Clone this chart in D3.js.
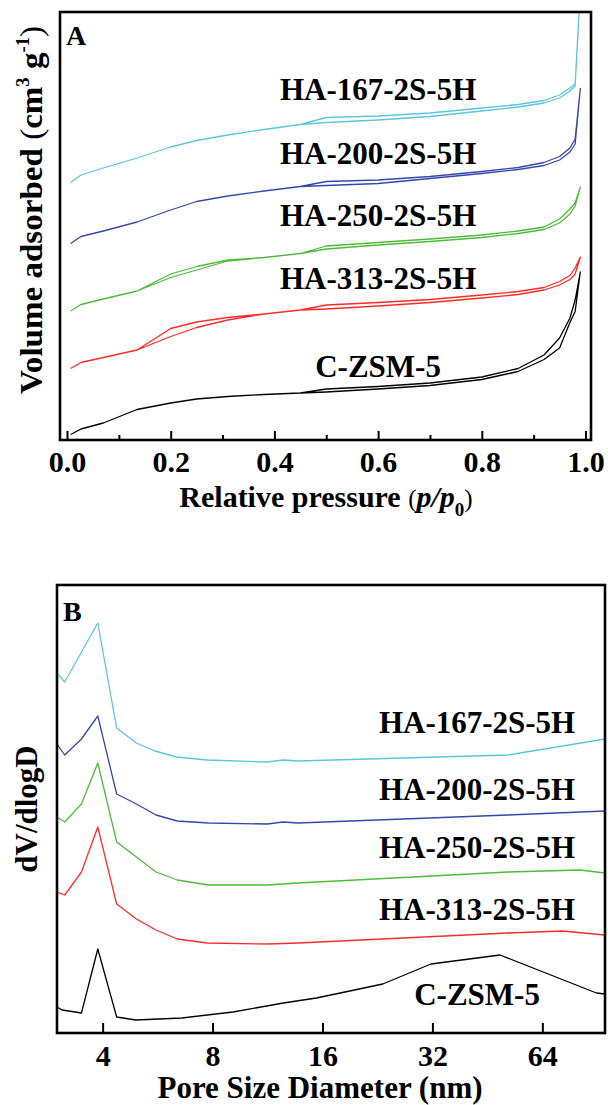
<!DOCTYPE html>
<html>
<head>
<meta charset="utf-8">
<script src="https://cdn.jsdelivr.net/npm/d3@7"></script>
<style>
body { margin: 0; background: #fff; }
text { font-family: "Liberation Serif", "Times New Roman", serif; font-weight: bold; fill: #000; }
</style>
</head>
<body>
<svg id="chart" width="608" height="1105"></svg>
<script>
//panel A data: N2 isotherms (stacked, arbitrary offset units)//
var pAds = [0.007, 0.027, 0.07, 0.135, 0.2, 0.25, 0.31, 0.38, 0.45, 0.5, 0.6, 0.7, 0.8, 0.87, 0.92, 0.95, 0.97, 0.98, 0.99];
var pDes = [0.99, 0.98, 0.97, 0.95, 0.92, 0.87, 0.8, 0.7, 0.6, 0.5, 0.45, 0.38, 0.31, 0.25, 0.2, 0.135];

var ads167 = [515, 530, 544, 564, 586, 599, 610, 621, 631, 635, 640, 647, 658, 666, 674, 684, 698, 708, 900];
var des167 = [900, 712, 704, 690, 679, 671, 664, 654, 648, 645, 631, 621, 610, 599, 586, 564];
var ads200 = [393, 407, 418, 436, 460, 477, 488, 498, 507, 509, 513, 523, 533, 541, 549, 560, 576, 592, 703];
var des200 = [703, 602, 584, 567, 555, 545, 537, 527, 520, 517, 507, 498, 488, 477, 460, 436];
var ads250 = [258, 271, 282, 298, 325, 340, 358, 365, 373, 382, 390, 397, 405, 413, 421, 434, 452, 468, 506];
var des250 = [506, 474, 462, 442, 426, 418, 410, 402, 395, 388, 373, 365, 360, 347, 332, 298];
var ads313 = [143, 155, 165, 180, 207, 225, 240, 252, 260, 262, 268, 275, 284, 291, 300, 310, 321, 332, 366];
var des313 = [366, 344, 329, 317, 305, 297, 290, 281, 275, 270, 260, 252, 245, 236, 223, 180];
var adsZSM = [11, 22, 34, 61, 74, 82, 87, 91, 94, 96, 102, 109, 121, 137, 161, 184, 235, 257, 336];
var desZSM = [336, 280, 244, 204, 170, 143, 126, 114, 107, 102, 94, 91, 87, 82, 74, 61];

//panel B data: pore size distribution (stacked)//
var size167 = [3.0, 3.15, 3.88, 4.37, 4.95, 5.57, 6.37, 7.74, 11.3, 12.47, 13.74, 51.5, 95];
var dv167 = [3.60, 3.51, 4.10, 3.05, 2.90, 2.82, 2.76, 2.73, 2.71, 2.73, 2.72, 2.78, 2.94];
var size200 = [3.0, 3.15, 3.5, 3.88, 4.37, 4.95, 5.6, 6.4, 7.8, 11.3, 12.47, 13.74, 51.5, 95];
var dv200 = [2.89, 2.78, 2.94, 3.17, 2.39, 2.29, 2.18, 2.12, 2.10, 2.09, 2.11, 2.10, 2.18, 2.22];
var size250 = [3.0, 3.15, 3.5, 3.88, 4.37, 4.95, 5.6, 6.4, 7.8, 11.3, 13.74, 51.5, 81, 95];
var dv250 = [2.16, 2.11, 2.29, 2.70, 1.91, 1.76, 1.61, 1.53, 1.48, 1.48, 1.50, 1.61, 1.63, 1.60];
var size313 = [3.0, 3.15, 3.5, 3.88, 4.37, 4.95, 5.6, 6.4, 7.74, 11.3, 13.74, 51.5, 72.6, 95];
var dv313 = [1.41, 1.38, 1.61, 2.06, 1.29, 1.14, 1.03, 0.94, 0.90, 0.89, 0.90, 1.00, 1.02, 0.98];
var sizeZSM = [3.0, 3.1, 3.5, 3.88, 4.37, 4.93, 6.6, 9.1, 12.5, 15.4, 19.0, 23.4, 31.7, 49.0, 90, 95];
var dvZSM = [0.26, 0.23, 0.20, 0.84, 0.16, 0.13, 0.15, 0.21, 0.30, 0.35, 0.42, 0.49, 0.69, 0.78, 0.40, 0.39];

var names = ["HA-167-2S-5H", "HA-200-2S-5H", "HA-250-2S-5H", "HA-313-2S-5H", "C-ZSM-5"];
var colors = ["#5cc6da", "#3449ab", "#4fbb3d", "#ff2b2b", "#000000"];
var ticksA = [0, 0.2, 0.4, 0.6, 0.8, 1.0];
var minorA = [0.1, 0.3, 0.5, 0.7, 0.9];
var ticksB = [4, 8, 16, 32, 64];

// where the series names sit (data units)
var labelYA = [681, 553, 428, 303, 127];
var labelYB = [3.00, 2.33, 1.75, 1.13, 0.28];

var svg = d3.select("#chart");
svg.append("rect").attr("width", 608).attr("height", 1105).attr("fill", "#fff");

var boxA = {left: 60, right: 591, top: 12, bottom: 440};
var boxB = {left: 57, right: 605, top: 585, bottom: 1033};

var xA = d3.scaleLinear().domain([-0.0135, 1.0106]).range([boxA.left, boxA.right]);
var yA = d3.scaleLinear().domain([0, 856]).range([boxA.bottom, boxA.top]);
var xB = d3.scaleLog().base(2).domain([3, 95]).range([boxB.left, boxB.right]);
var yB = d3.scaleLinear().domain([0, 4.48]).range([boxB.bottom, boxB.top]);

var defs = svg.append("defs");
defs.append("clipPath").attr("id", "clipA").append("rect")
	.attr("x", boxA.left).attr("y", boxA.top)
	.attr("width", boxA.right - boxA.left).attr("height", boxA.bottom - boxA.top);
defs.append("clipPath").attr("id", "clipB").append("rect")
	.attr("x", boxB.left).attr("y", boxB.top)
	.attr("width", boxB.right - boxB.left).attr("height", boxB.bottom - boxB.top);

//panel A lines//
var lineA = d3.line().x(d => xA(d[0])).y(d => yA(d[1]));
var isotherms = [[ads167, des167], [ads200, des200], [ads250, des250], [ads313, des313], [adsZSM, desZSM]];

var gA = svg.append("g").attr("clip-path", "url(#clipA)");
isotherms.forEach(function(s, i) {
	var pts = d3.zip(pAds, s[0]).concat(d3.zip(pDes, s[1]));
	gA.append("path")
		.attr("d", lineA(pts))
		.attr("fill", "none")
		.attr("stroke", colors[i])
		.attr("stroke-width", 1.3)
		.attr("stroke-linejoin", "round");
});

//panel B lines//
var lineB = d3.line().x(d => xB(d[0])).y(d => yB(d[1]));
var psd = [[size167, dv167], [size200, dv200], [size250, dv250], [size313, dv313], [sizeZSM, dvZSM]];

var gB = svg.append("g").attr("clip-path", "url(#clipB)");
psd.forEach(function(s, i) {
	gB.append("path")
		.attr("d", lineB(d3.zip(s[0], s[1])))
		.attr("fill", "none")
		.attr("stroke", colors[i])
		.attr("stroke-width", 1.3)
		.attr("stroke-linejoin", "round");
});

//axes//
function styleAxis(g) {
	g.select(".domain").remove();
	g.selectAll(".tick line").attr("stroke", "#000").attr("stroke-width", 2);
	g.selectAll(".tick text")
		.attr("font-family", "Liberation Serif, Times New Roman, serif")
		.attr("font-weight", "bold")
		.attr("font-size", 30)
		.attr("fill", "#000");
}

svg.append("g")
	.attr("transform", "translate(0," + boxA.bottom + ")")
	.call(d3.axisBottom(xA).tickValues(minorA).tickSize(-5).tickFormat(""))
	.call(styleAxis);
svg.append("g")
	.attr("transform", "translate(0," + boxA.bottom + ")")
	.call(d3.axisBottom(xA).tickValues(ticksA).tickSize(-9).tickPadding(11).tickFormat(d3.format(".1f")))
	.call(styleAxis);
svg.append("g")
	.attr("transform", "translate(0," + boxB.bottom + ")")
	.call(d3.axisBottom(xB).tickValues(ticksB).tickSize(-10).tickPadding(12).tickFormat(d3.format("d")))
	.call(styleAxis);

//frames//
[boxA, boxB].forEach(function(b) {
	svg.append("rect")
		.attr("x", b.left).attr("y", b.top)
		.attr("width", b.right - b.left).attr("height", b.bottom - b.top)
		.attr("fill", "none").attr("stroke", "#000").attr("stroke-width", 2.6);
});

//series names//
names.forEach(function(n, i) {
	svg.append("text").attr("x", xA(0.6)).attr("y", yA(labelYA[i]))
		.attr("text-anchor", "middle").attr("font-size", 31).text(n);
	svg.append("text").attr("x", xB(42.4)).attr("y", yB(labelYB[i]))
		.attr("text-anchor", "middle").attr("font-size", 31).text(n);
});

//panel letters//
svg.append("text").attr("x", 66).attr("y", 45).attr("font-size", 28).text("A");
svg.append("text").attr("x", 63).attr("y", 621).attr("font-size", 28).text("B");

//axis titles//
var tA = svg.append("text").attr("x", 326).attr("y", 507)
	.attr("text-anchor", "middle").attr("font-size", 30);
tA.append("tspan").text("Relative pressure ");
tA.append("tspan").attr("font-weight", "normal").attr("font-size", 25).text("(");
tA.append("tspan").attr("font-style", "italic").text("p/p");
tA.append("tspan").attr("font-size", 19).attr("dy", 9).text("0");
tA.append("tspan").attr("font-weight", "normal").attr("font-size", 25).attr("dy", -9).text(")");

var yTA = svg.append("text")
	.attr("transform", "translate(42,210) rotate(-90)")
	.attr("text-anchor", "middle").attr("font-size", 32)
	.attr("textLength", 368).attr("lengthAdjust", "spacingAndGlyphs");
yTA.append("tspan").text("Volume adsorbed ");
yTA.append("tspan").attr("font-weight", "normal").text("(");
yTA.append("tspan").text("cm");
yTA.append("tspan").attr("font-size", 18).attr("dy", -13).text("3");
yTA.append("tspan").attr("dy", 13).text(" g");
yTA.append("tspan").attr("font-size", 18).attr("dy", -13).text("-1");
yTA.append("tspan").attr("font-weight", "normal").attr("dy", 13).text(")");

svg.append("text").attr("x", 320).attr("y", 1098)
	.attr("text-anchor", "middle").attr("font-size", 31)
	.text("Pore Size Diameter (nm)");

svg.append("text")
	.attr("transform", "translate(37," + ((boxB.top + boxB.bottom) / 2) + ") rotate(-90)")
	.attr("text-anchor", "middle").attr("font-size", 31)
	.text("dV/dlogD");
</script>
</body>
</html>
